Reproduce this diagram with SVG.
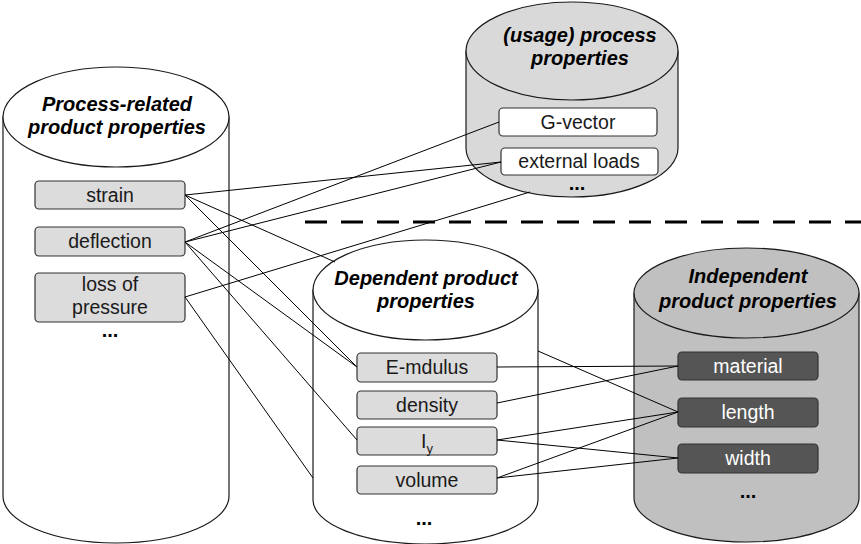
<svg xmlns="http://www.w3.org/2000/svg" width="861" height="544" viewBox="0 0 861 544">
  <style>
    .cyl { stroke: #1a1a1a; stroke-width: 1.2; }
    .white { fill: #ffffff; }
    .lightcyl { fill: #d9d9d9; }
    .darkcyl { fill: #c0c0c0; }
    .title { font-family: "Liberation Sans", Arial, sans-serif; font-size: 20px; font-weight: bold; font-style: italic; fill: #000; text-anchor: middle; }
    .lbl { font-family: "Liberation Sans", Arial, sans-serif; font-size: 19.5px; fill: #1a1a1a; text-anchor: middle; }
    .lblw { font-family: "Liberation Sans", Arial, sans-serif; font-size: 19.5px; fill: #ffffff; text-anchor: middle; }
    .dots { font-family: "Liberation Sans", Arial, sans-serif; font-size: 20px; font-weight: bold; fill: #000; text-anchor: middle; }
    .box { fill: #dcdcdc; stroke: #333; stroke-width: 1.2; }
    .boxw { fill: #ffffff; stroke: #333; stroke-width: 1.2; }
    .boxd { fill: #555555; stroke: #333; stroke-width: 1.2; }
    .conn line { stroke: #000; stroke-width: 1; }
  </style>

  <!-- Process-related product properties -->
  <g id="process-related">
    <path class="cyl white" d="M3,117 L3,496 A113,47 0 0 0 229,496 L229,117 Z"/>
    <ellipse class="cyl white" cx="116" cy="117" rx="113" ry="50"/>
    <text class="title" x="117" y="111">Process-related</text>
    <text class="title" x="117" y="134">product properties</text>
    <g id="strain">
      <rect class="box" x="35" y="181" width="150" height="28" rx="4"/>
      <text class="lbl" x="110" y="202">strain</text>
    </g>
    <g id="deflection">
      <rect class="box" x="35" y="227" width="150" height="29" rx="4"/>
      <text class="lbl" x="110" y="248">deflection</text>
    </g>
    <g id="loss-of-pressure">
      <rect class="box" x="35" y="273" width="150" height="49" rx="4"/>
      <text class="lbl" x="110" y="291">loss of</text>
      <text class="lbl" x="110" y="314">pressure</text>
    </g>
    <text class="dots" x="110" y="337">...</text>
  </g>

  <!-- (usage) process properties -->
  <g id="usage-process">
    <path class="cyl lightcyl" d="M466,51 L466,148 A106,49 0 0 0 678,148 L678,51 Z"/>
    <ellipse class="cyl lightcyl" cx="572" cy="51" rx="106" ry="49"/>
    <text class="title" x="580" y="42">(usage) process</text>
    <text class="title" x="580" y="65">properties</text>
    <g id="g-vector">
      <rect class="boxw" x="499" y="108" width="158" height="28" rx="4"/>
      <text class="lbl" x="578" y="129">G-vector</text>
    </g>
    <g id="external-loads">
      <rect class="boxw" x="501" y="148" width="157" height="27" rx="4"/>
      <text class="lbl" x="579" y="168">external loads</text>
    </g>
    <text class="dots" x="577" y="190">...</text>
  </g>

  <!-- separator -->
  <line x1="305" y1="222" x2="861" y2="222" stroke="#000" stroke-width="3" stroke-dasharray="22,14"/>

  <!-- Dependent product properties -->
  <g id="dependent">
    <path class="cyl white" d="M313,290 L313,500 A112.5,44 0 0 0 538,500 L538,290 Z"/>
    <ellipse class="cyl white" cx="425.5" cy="290" rx="112.5" ry="50"/>
    <text class="title" x="426" y="285">Dependent product</text>
    <text class="title" x="426" y="308">properties</text>
    <g id="e-modulus">
      <rect class="box" x="357" y="353" width="140" height="29" rx="4"/>
      <text class="lbl" x="427" y="374">E-mdulus</text>
    </g>
    <g id="density">
      <rect class="box" x="357" y="391" width="140" height="28" rx="4"/>
      <text class="lbl" x="427" y="412">density</text>
    </g>
    <g id="iy">
      <rect class="box" x="357" y="427" width="140" height="28" rx="4"/>
      <text class="lbl" x="427" y="448">I<tspan font-size="13" dy="5">y</tspan></text>
    </g>
    <g id="volume">
      <rect class="box" x="357" y="466" width="140" height="28" rx="4"/>
      <text class="lbl" x="427" y="487">volume</text>
    </g>
    <text class="dots" x="424" y="525">...</text>
  </g>

  <!-- Independent product properties -->
  <g id="independent">
    <path class="cyl darkcyl" d="M634,293 L634,498 A112.5,44 0 0 0 859,498 L859,293 Z"/>
    <ellipse class="cyl darkcyl" cx="746.5" cy="293" rx="112.5" ry="45"/>
    <text class="title" x="748" y="283">Independent</text>
    <text class="title" x="748" y="308">product properties</text>
    <g id="material">
      <rect class="boxd" x="678" y="352" width="140" height="28" rx="4"/>
      <text class="lblw" x="748" y="373">material</text>
    </g>
    <g id="length">
      <rect class="boxd" x="678" y="398" width="140" height="29" rx="4"/>
      <text class="lblw" x="748" y="419">length</text>
    </g>
    <g id="width">
      <rect class="boxd" x="678" y="444" width="140" height="29" rx="4"/>
      <text class="lblw" x="748" y="465">width</text>
    </g>
    <text class="dots" x="748" y="498">...</text>
  </g>

  <!-- connectors -->
  <g id="connectors" class="conn">
    <line x1="185" y1="195" x2="501" y2="162"/>
    <line x1="185" y1="195" x2="335" y2="262"/>
    <line x1="185" y1="195" x2="357" y2="367"/>
    <line x1="185" y1="242" x2="499" y2="122"/>
    <line x1="185" y1="242" x2="501" y2="162"/>
    <line x1="185" y1="242" x2="357" y2="367"/>
    <line x1="185" y1="242" x2="357" y2="440"/>
    <line x1="185" y1="297" x2="530" y2="192"/>
    <line x1="185" y1="297" x2="313" y2="478"/>
    <line x1="538" y1="351" x2="678" y2="412"/>
    <line x1="497" y1="367" x2="678" y2="366"/>
    <line x1="497" y1="403" x2="678" y2="366"/>
    <line x1="497" y1="440" x2="678" y2="412"/>
    <line x1="497" y1="440" x2="678" y2="458"/>
    <line x1="497" y1="478" x2="678" y2="412"/>
    <line x1="497" y1="478" x2="678" y2="458"/>
  </g>
</svg>
